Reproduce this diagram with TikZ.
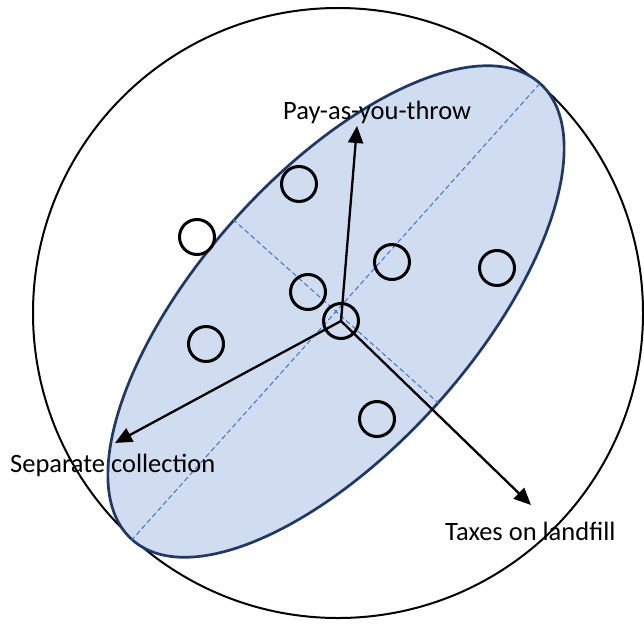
\documentclass[tikz,border=0pt]{standalone}
\usepackage{fontspec}
\setmainfont{Carlito}
\usetikzlibrary{arrows.meta}
\usetikzlibrary{shapes}
\definecolor{ellfill}{HTML}{D0DCF0}
\definecolor{elldraw}{HTML}{1F3864}
\definecolor{axisblue}{HTML}{4472C4}

\begin{document}
\begin{tikzpicture}[x=1pt, y=-1pt, >={Triangle[length=17pt, width=15pt]},
        dot/.style={circle, draw, line width=3pt, minimum size=35pt, inner sep=0pt},
        lbl/.style={font=\fontsize{26.5}{30}\selectfont, inner sep=0pt}]
        \useasboundingbox (0, 0) rectangle (644, 623);
        \node[circle, draw, line width=2pt, minimum size=610pt, inner sep=0pt] (O) at (338, 313) {};
        \node[ellipse, draw=elldraw, fill=ellfill, line width=2.7pt, rotate=48.2, minimum width=612pt, minimum height=274pt, inner sep=0pt] (E) at (336, 311.5) {};
        \draw[axisblue, dash pattern=on 5pt off 3pt, line width=1pt] (E.west) -- (E.east);
        \draw[axisblue, dash pattern=on 5pt off 3pt, line width=1pt] (E.north) -- (E.south);
        \node[dot] (c1) at (299, 184) {};
        \node[dot] (c2) at (197, 237) {};
        \node[dot] (c3) at (392, 262) {};
        \node[dot] (c4) at (497, 268) {};
        \node[dot] (c5) at (308, 292) {};
        \node[dot] (c6) at (206, 344) {};
        \node[dot] (c7) at (377, 419) {};
        \node[dot] (hub) at (341, 321) {};
        \coordinate (pt) at (357, 126);
        \coordinate (sc) at (115, 443);
        \coordinate (tl) at (531, 505);
        \draw[->, line width=2.3pt] (hub.center) -- (pt);
        \draw[->, line width=2.3pt] (hub.center) -- (sc);
        \draw[->, line width=2.3pt] (hub.center) -- (tl);
        \node[lbl, anchor=west] (PT) at (283, 112) {Pay-as-you-throw};
        \node[lbl, anchor=west] (SC) at (10, 465) {Separate collection};
        \node[lbl, anchor=west] (TL) at (445, 531) {Taxes on landfill};
    \end{tikzpicture}
\end{document}
